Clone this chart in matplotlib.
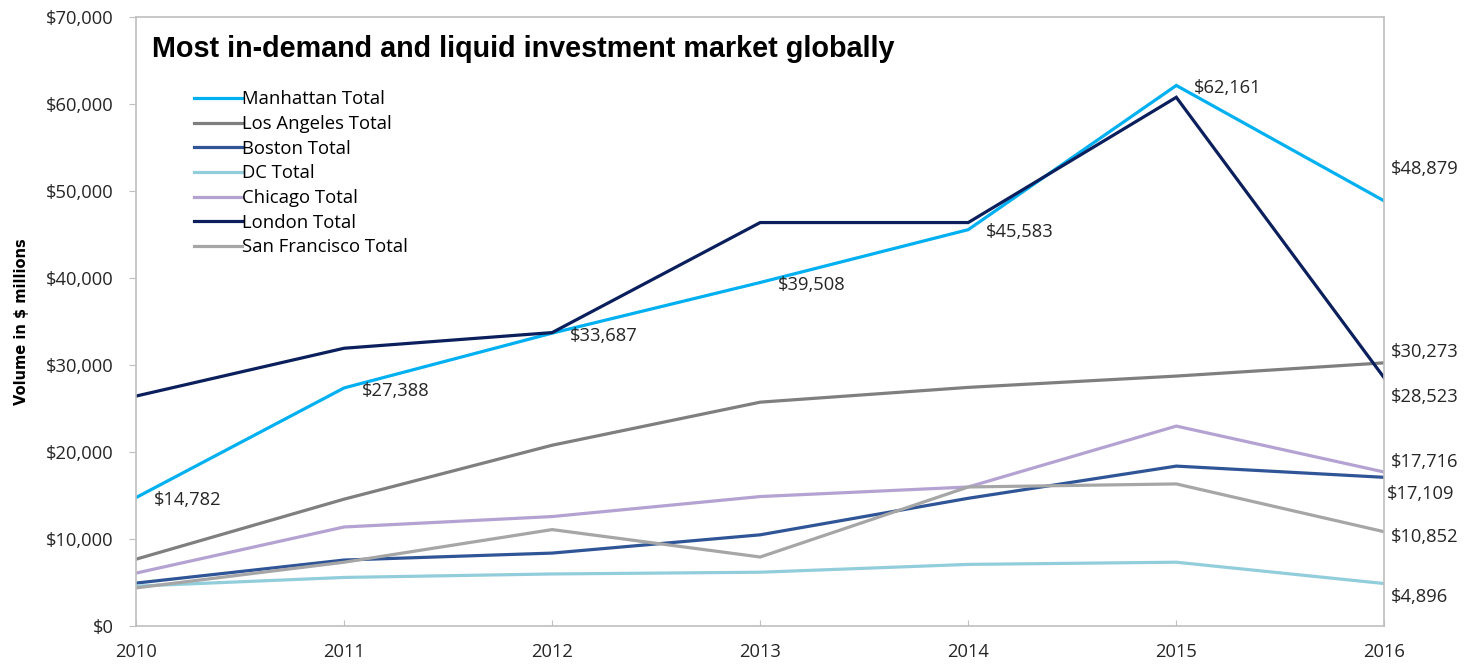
import matplotlib.pyplot as plt
from matplotlib.ticker import FuncFormatter

years = [2010, 2011, 2012, 2013, 2014, 2015, 2016]

manhattan = [14782, 27388, 33687, 39508, 45583, 62161, 48879]
los_angeles = [7700, 14600, 20800, 25750, 27450, 28750, 30273]
boston = [4950, 7600, 8400, 10500, 14700, 18400, 17109]
dc = [4600, 5600, 6000, 6200, 7100, 7350, 4896]
chicago = [6100, 11400, 12600, 14900, 16000, 23000, 17716]
london = [26450, 31950, 33750, 46400, 46400, 60800, 28523]
san_francisco = [4400, 7350, 11100, 7950, 16000, 16350, 10852]

series_names = [
    "Manhattan Total",
    "Los Angeles Total",
    "Boston Total",
    "DC Total",
    "Chicago Total",
    "London Total",
    "San Francisco Total",
]
series_values = [manhattan, los_angeles, boston, dc, chicago, london, san_francisco]
series_colors = ["#00b0f0", "#7f7f7f", "#2f5597", "#92cddc", "#b4a2d2", "#0b1f5c", "#a6a6a6"]

# end-of-line label offsets (points) for the 2016 values
end_offsets = {
    "Manhattan Total": (5, 23),
    "Los Angeles Total": (5, 8),
    "London Total": (5, -14),
    "Chicago Total": (5, 7),
    "Boston Total": (2, -12),
    "San Francisco Total": (5, -4),
    "DC Total": (5, -10),
}

label_font = ["Open Sans", "DejaVu Sans"]
label_size = 13.2

fig = plt.figure(figsize=(14.79, 6.64), dpi=100)
ax = fig.add_axes([0.092, 0.057, 0.844, 0.917])

for name, vals, col in zip(series_names, series_values, series_colors):
    ax.plot(years, vals, color=col, lw=2.3, label=name, solid_joinstyle="miter")

# Manhattan values along the line
for x, v in zip(years[:-1], manhattan[:-1]):
    ax.annotate(f"${v:,}", (x, v), xytext=(13, -2), textcoords="offset points",
                ha="left", va="center", fontsize=label_size, color="#262626",
                family=label_font)

for name, vals in zip(series_names, series_values):
    dx, dy = end_offsets[name]
    ax.annotate(f"${vals[-1]:,}", (years[-1], vals[-1]), xytext=(dx, dy),
                textcoords="offset points", ha="left", va="center", fontsize=label_size,
                color="#262626", family=label_font, annotation_clip=False)

ax.set_xlim(2010, 2016)
ax.set_ylim(0, 70000)
ax.set_xticks(years)
ax.set_yticks(range(0, 70001, 10000))
ax.yaxis.set_major_formatter(FuncFormatter(lambda v, p: f"${v:,.0f}"))

for s in ax.spines.values():
    s.set_color("#bfbfbf")
    s.set_linewidth(1.2)

ax.tick_params(axis="y", direction="out", length=5, color="#bfbfbf", labelsize=label_size,
               labelcolor="#262626", pad=11)
ax.tick_params(axis="x", direction="in", length=4, color="#bfbfbf", labelsize=label_size,
               labelcolor="#262626", pad=12)
for lab in ax.get_xticklabels() + ax.get_yticklabels():
    lab.set_family(label_font)

ax.set_ylabel("Volume in $ millions", fontsize=10.5, fontweight="bold", labelpad=12)

ax.text(0.0125, 0.948, "Most in-demand and liquid investment market globally",
        transform=ax.transAxes, fontsize=20.7, fontweight="bold",
        family=["Liberation Sans", "DejaVu Sans"], ha="left", va="center")

ax.legend(loc="upper left", bbox_to_anchor=(0.0405, 0.892), frameon=False,
          handlelength=2.6, handletextpad=0.0, labelspacing=0.36,
          borderaxespad=0, prop={"family": "Open Sans", "size": 13.3})

fig.savefig("out.png", dpi=100)
